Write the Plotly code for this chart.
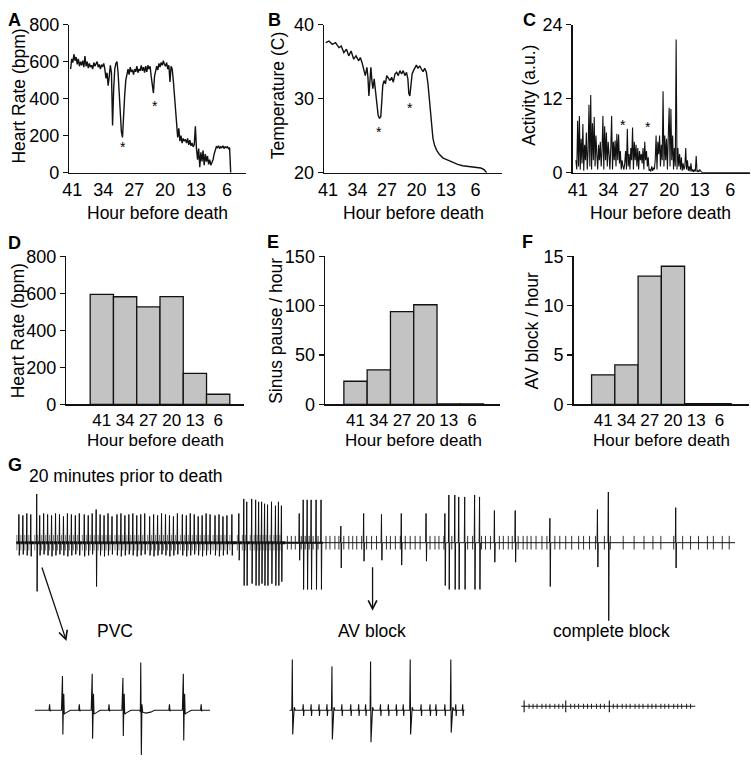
import numpy as np
import plotly.graph_objects as go

W, H = 751, 765
FONT = "Liberation Sans, Arial, Helvetica, sans-serif"


def fx(px):
    return px / W


def fy(py):
    return 1 - py / H


# ---------------- data: panels A-C (hour before death) ----------------
HOUR_TICKS = [41, 34, 27, 20, 13, 6]

HR_START, HR_STEP = 41.4, 0.25
HR = [560, 615, 595, 640, 605, 625, 585, 615, 575, 600,
      580, 605, 570, 630, 575, 600, 565, 590, 570, 580,
      560, 595, 575, 590, 600, 570, 585, 560, 580, 575,
      590, 560, 510, 540, 470, 520, 580, 540, 255, 450,
      560, 590, 600, 540, 430, 300, 220, 190, 330, 420,
      500, 545, 560, 530, 570, 545, 555, 530, 560, 545,
      575, 540, 560, 550, 580, 550, 570, 540, 575, 545,
      580, 560, 575, 520, 480, 430, 520, 560, 575, 555,
      590, 570, 595, 580, 605, 585, 575, 595, 560, 580,
      490, 575, 560, 500, 420, 300, 270, 190, 240, 170,
      200, 160, 185, 170, 180, 160, 185, 150, 175, 145,
      160, 140, 150, 250, 130, 70, 130, 30, 110, 60,
      120, 40, 100, 60, 90, 45, 70, 40, 55, 70,
      100, 125, 140, 135, 145, 130, 140, 135, 145, 130,
      140, 135, 140, 130, 135, 0]

TEMP_HOURS = [41.55, 40.77, 39.98, 39.2, 38.42, 37.87, 37.24, 36.62, 36.07, 35.52,
              34.9, 34.35, 33.72, 33.33, 32.94, 32.55, 32.16, 31.77, 31.53, 31.3,
              31.06, 30.83, 30.59, 30.36, 30.05, 29.73, 29.42, 29.11, 28.79, 28.48,
              28.25, 28.01, 27.7, 27.38, 27.07, 26.68, 26.29, 25.9, 25.51, 25.12,
              24.72, 24.33, 23.94, 23.55, 23.16, 22.77, 22.38, 22.06, 21.83, 21.59,
              21.36, 21.05, 20.73, 20.42, 20.03, 19.64, 19.25, 18.86, 18.46, 18.07,
              17.68, 17.29, 16.9, 16.51, 16.12, 15.73, 15.18, 14.55, 13.77, 12.99,
              12.2, 11.42, 10.25, 9.08, 7.51, 5.95, 4.77, 3.99, 3.37]
TEMP = [37.56, 37.78, 37.33, 37.56, 36.89, 37.1, 36.22, 36.67, 35.78, 36.44,
        35.33, 35.78, 35.11, 35.56, 34.89, 34.0, 33.11, 34.22, 32.89, 30.36,
        33.11, 34.22, 32.44, 31.33, 32.67, 30.89, 29.56, 27.78, 27.33, 27.56,
        29.56, 31.78, 32.44, 32.0, 33.11, 32.76, 32.44, 32.89, 32.22, 33.33,
        33.56, 33.11, 33.78, 33.33, 33.78, 33.11, 33.56, 32.67, 30.67, 30.36,
        32.22, 33.33, 33.78, 34.22, 34.53, 34.09, 34.44, 34.0, 33.64, 34.09,
        33.56, 32.0, 29.56, 26.89, 24.67, 23.69, 22.98, 22.44, 22.0, 21.78,
        21.56, 21.38, 21.11, 20.93, 20.8, 20.71, 20.62, 20.4, 20.0]

ACT_START, ACT_STEP = 41.4, 0.2
ACT = [2, 0.5, 8.4, 1, 9.2,
       0.5, 5.5, 1.5, 7.9, 0.3,
       4.5, 2, 6.5, 0.5, 3.5,
       11, 1, 12.6, 0.5, 8,
       2, 9, 1, 6, 3,
       0.5, 4.5, 2, 5, 1,
       3.5, 9.2, 0.5, 7.5, 2,
       6.5, 1, 5, 3, 0.5,
       4, 9.2, 0.5, 5, 2,
       5.2, 1, 6.3, 2, 6.2,
       1.5, 3.5, 0.5, 2, 1,
       0.5, 1.5, 3.5, 0.5, 7.1,
       1, 3, 0.5, 4, 2,
       7.3, 0.5, 5, 2, 4.5,
       1, 4, 0.5, 3.5, 2,
       3, 1.5, 4, 0.5, 5,
       2, 3.5, 1, 2.5, 0.3,
       0.5, 0.2, 1, 0.3, 0.8,
       0.5, 2, 6, 0.5, 5,
       3, 6, 1, 4.5, 2,
       13.2, 1, 6, 2, 5.5,
       0.5, 6, 10.5, 1, 10.3,
       2, 6, 0.5, 4, 1,
       21.6, 0.5, 4, 1, 3,
       0.5, 2.5, 0.3, 1.5, 0.5,
       1, 4, 0.5, 2, 0.3,
       1, 0.2, 1.5, 0.2, 0.5,
       0.1, 0.5, 0.2, 2.7, 0.1,
       0.3, 0.1, 0.5, 0.2, 0.1]
ACT_TAIL_HOURS = [12.4, 1.5]
ACT_TAIL = [0, 0]

STAR_A = ([29.6, 22.4], [154, 379])
STAR_B = ([29.0, 21.6], [25.9, 29.1])
STAR_C = ([30.6, 24.8], [8.2, 7.9])

# ---------------- data: panels D-F (binned) ----------------
BIN_LABELS = ["41", "34", "27", "20", "13", "6"]
BIN_HR = [595, 582, 527, 583, 168, 55]
BIN_SINUS = [23.5, 35, 94, 101, 0.6, 0.6]
BIN_AV = [3, 4, 13, 14, 0.08, 0.08]

# ---------------- data: panel G (ECG, seconds / mV) ----------------
TOP_LEN = 72.6
TOP_QRS_T = [0.3, 0.7, 1.1, 1.5, 2.1, 2.4, 2.8, 3.2, 3.6, 4.0, 4.4, 4.8, 5.2, 5.6, 6.0,
             6.4, 6.9, 7.3, 7.7, 8.1, 8.5, 8.9, 9.3, 9.7, 10.2, 10.6, 11.0, 11.4, 11.8,
             12.2, 12.6, 13.0, 13.5, 13.9, 14.3, 14.7, 15.1, 15.5, 15.9, 16.3, 16.8,
             17.2, 17.6, 18.0, 18.4, 18.8, 19.2, 19.6, 20.1, 20.5, 20.9, 21.3, 21.8,
             22.5, 23.0, 23.3, 23.8, 24.2, 24.5, 24.8, 25.1, 25.4, 25.8, 26.2, 26.5, 26.8,
             28.6, 29.0, 29.4, 29.8, 30.3, 30.8,
             32.8, 35.1, 36.9, 38.9, 41.4, 43.3, 43.7, 44.3, 44.7, 45.3, 46.3, 46.8,
             48.3, 50.4, 53.9, 58.7, 59.8, 66.6]
TOP_QRS_UP = [1.45, 1.4, 1.5, 1.45, 2.5, 1.4, 1.5, 1.45, 1.4, 1.5, 1.45, 1.35, 1.5, 1.45, 1.4,
              1.5, 1.45, 1.4, 1.5, 1.7, 1.45, 1.4, 1.5, 1.35, 1.45, 1.5, 1.4, 1.45, 1.5,
              1.4, 1.45, 1.5, 1.35, 1.45, 1.4, 1.5, 1.45, 1.4, 1.35, 1.5, 1.45,
              1.4, 1.5, 1.45, 1.35, 1.4, 1.5, 1.45, 1.4, 1.45, 1.35, 1.4, 1.45,
              1.5, 2.25, 2.1, 2.25, 2.2, 2.1, 2.1, 2.0, 1.95, 2.1, 1.9, 2.1, 1.9,
              1.5, 2.2, 2.2, 2.2, 2.2, 2.2,
              0.85, 1.5, 1.45, 1.5, 1.5, 1.5, 2.45, 2.45, 2.35, 2.35, 2.45, 2.35,
              1.65, 1.65, 1.25, 1.7, 2.6, 1.8]
TOP_QRS_DOWN = [0.65, 0.6, 0.65, 0.7, 2.5, 0.65, 0.6, 0.65, 0.7, 0.65, 0.6, 0.65, 0.7, 0.65, 0.6,
                0.65, 0.7, 0.65, 0.6, 2.25, 0.65, 0.7, 0.65, 0.6, 0.65, 0.7, 0.65, 0.6, 0.65,
                0.7, 0.65, 0.6, 0.65, 0.7, 0.65, 0.6, 0.65, 0.7, 0.65, 0.6, 0.65,
                0.7, 0.65, 0.6, 0.65, 0.7, 0.65, 0.6, 0.65, 0.7, 0.65, 0.6, 0.65,
                0.9, 2.2, 2.2, 2.1, 2.2, 2.2, 2.1, 2.2, 2.2, 2.1, 2.2, 2.2, 2.0,
                0.9, 2.4, 2.4, 2.4, 2.4, 2.4,
                1.3, 0.95, 0.9, 1.15, 0.95, 2.2, 2.4, 2.4, 2.4, 2.4, 2.4, 2.4,
                1.0, 1.0, 2.25, 1.25, 4.0, 1.3]
TOP_P_T = [27.4, 27.8, 28.2, 28.8, 29.2, 29.6, 30.0, 30.5, 31.3, 31.7, 32.2, 32.6, 33.1,
           33.6, 34.0, 34.4, 34.9, 35.4, 35.9, 36.4, 37.4, 37.8, 38.3, 38.8, 39.3, 39.8,
           40.3, 40.8, 41.8, 42.3, 42.7, 43.2, 44.0, 45.6, 46.1, 47.0, 47.4, 47.9, 48.8,
           49.2, 49.7, 50.1, 50.7, 51.2, 51.6, 52.0, 52.5, 53.1, 53.6, 54.4, 54.9, 55.5,
           56.1, 56.8, 57.3, 57.9, 58.5, 59.4, 60.0, 61.3, 62.4, 63.4, 64.3, 65.1, 66.4,
           67.3, 68.1, 68.9, 69.8, 70.4, 71.3, 72.0]

PVC_LEN = 1.77
PVC_QRS_T = [0.28, 0.58, 0.89, 1.50]
PVC_QRS_UP = [1.75, 1.87, 1.65, 1.87]
PVC_QRS_DOWN = [1.25, 1.47, 1.32, 1.55]
PVC_ECTOPIC_T = [1.07]
PVC_ECTOPIC_UP = [2.45]
PVC_ECTOPIC_DOWN = [2.3]
PVC_P_T = [0.15, 0.45, 0.75, 1.36, 1.68]

AV_LEN = 1.77
AV_QRS_T = [0.03, 0.43, 0.82, 1.22, 1.63]
AV_QRS_UP = [2.6, 2.25, 2.5, 2.6, 2.6]
AV_QRS_DOWN = [1.25, 1.5, 1.65, 1.25, 1.15]
AV_P_T = [0.14, 0.22, 0.30, 0.38, 0.53, 0.62, 0.70, 0.77, 0.92, 1.00, 1.08, 1.15,
          1.33, 1.42, 1.48, 1.57, 1.68, 1.75]

CB_LEN = 1.76
CB_BIG_T = [0.03, 0.45, 0.89]
CB_SMALL_T = [0.08, 0.12, 0.16, 0.21, 0.25, 0.29, 0.34, 0.38, 0.42, 0.50, 0.54, 0.58,
              0.63, 0.67, 0.71, 0.76, 0.80, 0.84, 0.93, 0.97, 1.02, 1.06, 1.10, 1.15,
              1.19, 1.23, 1.28, 1.32, 1.36, 1.41, 1.45, 1.49, 1.54, 1.58, 1.62, 1.67, 1.71]


# ---------------- helpers ----------------
def polyline(length, events):
    events = sorted(events, key=lambda e: e[0])
    xs, ys = [0.0], [0.0]
    for t, tpl in events:
        for dt, v in tpl:
            xs.append(t + dt)
            ys.append(v)
    xs.append(length)
    ys.append(0.0)
    return xs, ys


def ticks(times, up, down):
    xs, ys = [], []
    for t in times:
        xs += [t, t, None]
        ys += [up, -down, None]
    return xs, ys


fig = go.Figure()
BLACK = "#111111"

# Panel A
hr_hours = HR_START - HR_STEP * np.arange(len(HR))
fig.add_trace(go.Scatter(x=hr_hours, y=HR, mode="lines", line=dict(color=BLACK, width=1.4),
                         xaxis="x", yaxis="y", showlegend=False))
# Panel B
fig.add_trace(go.Scatter(x=TEMP_HOURS, y=TEMP, mode="lines", line=dict(color=BLACK, width=1.4),
                         xaxis="x2", yaxis="y2", showlegend=False))
# Panel C
act_hours = list(ACT_START - ACT_STEP * np.arange(len(ACT))) + ACT_TAIL_HOURS
fig.add_trace(go.Scatter(x=act_hours, y=ACT + ACT_TAIL, mode="lines",
                         line=dict(color=BLACK, width=1.1),
                         xaxis="x3", yaxis="y3", showlegend=False))

# Panels D-F
for vals, n in [(BIN_HR, 4), (BIN_SINUS, 5), (BIN_AV, 6)]:
    fig.add_trace(go.Bar(x=BIN_LABELS, y=vals, width=1,
                         marker=dict(color="#c3c3c3", line=dict(color=BLACK, width=1.3)),
                         xaxis=f"x{n}", yaxis=f"y{n}", showlegend=False))

# Panel G top strip
top_events = [(t, [(-0.04, 0.0), (0.0, u), (0.04, -d), (0.08, 0.0)])
              for t, u, d in zip(TOP_QRS_T, TOP_QRS_UP, TOP_QRS_DOWN)]
gx, gy = polyline(TOP_LEN, top_events)
fig.add_trace(go.Scatter(x=[0, 27.2], y=[0, 0], mode="lines", line=dict(color=BLACK, width=3),
                         xaxis="x7", yaxis="y7", showlegend=False))
fig.add_trace(go.Scatter(x=[27.2, 31.0], y=[0, 0], mode="lines", line=dict(color=BLACK, width=2),
                         xaxis="x7", yaxis="y7", showlegend=False))
conducted_p = [t - 0.2 for t in TOP_QRS_T if t < 22.2] + [t - 0.15 for t in TOP_QRS_T if 22.2 < t < 27]
px_, py_ = ticks(conducted_p, 0.4, 0.4)
fig.add_trace(go.Scatter(x=px_, y=py_, mode="lines", line=dict(color="#777777", width=1),
                         xaxis="x7", yaxis="y7", showlegend=False))
px_, py_ = ticks(TOP_P_T, 0.35, 0.35)
fig.add_trace(go.Scatter(x=px_, y=py_, mode="lines", line=dict(color="#333333", width=1),
                         xaxis="x7", yaxis="y7", showlegend=False))
fig.add_trace(go.Scatter(x=gx, y=gy, mode="lines", line=dict(color=BLACK, width=1),
                         xaxis="x7", yaxis="y7", showlegend=False))

# PVC strip
ev = [(t, [(-0.01, 0.0), (0.0, u), (0.004, -d), (0.009, 0.2), (0.013, 0.85), (0.018, -0.2),
           (0.03, -0.15), (0.05, -0.1), (0.08, 0.0)])
      for t, u, d in zip(PVC_QRS_T, PVC_QRS_UP, PVC_QRS_DOWN)]
ev += [(t, [(-0.01, 0.0), (-0.004, -0.1), (0.0, u), (0.006, -d), (0.012, 0.3), (0.02, -0.1),
            (0.05, -0.15), (0.1, -0.1), (0.14, 0.0)])
       for t, u, d in zip(PVC_ECTOPIC_T, PVC_ECTOPIC_UP, PVC_ECTOPIC_DOWN)]
ev += [(t, [(-0.006, 0.0), (0.0, 0.3), (0.005, -0.05), (0.012, 0.0)]) for t in PVC_P_T]
vx, vy = polyline(PVC_LEN, ev)
fig.add_trace(go.Scatter(x=vx, y=vy, mode="lines", line=dict(color=BLACK, width=1.1),
                         xaxis="x8", yaxis="y8", showlegend=False))

# AV block strip
ev = [(t, [(-0.005, 0.0), (0.0, u), (0.004, -d), (0.012, -0.45), (0.02, 0.15), (0.03, 0.0)])
      for t, u, d in zip(AV_QRS_T, AV_QRS_UP, AV_QRS_DOWN)]
ev += [(t, [(-0.005, 0.0), (0.0, 0.3), (0.004, -0.3), (0.008, 0.0)]) for t in AV_P_T]
ax_, ay_ = polyline(AV_LEN, ev)
fig.add_trace(go.Scatter(x=ax_, y=ay_, mode="lines", line=dict(color=BLACK, width=1.1),
                         xaxis="x9", yaxis="y9", showlegend=False))

# complete block strip
fig.add_trace(go.Scatter(x=[0, CB_LEN], y=[0, 0], mode="lines", line=dict(color=BLACK, width=1.1),
                         xaxis="x10", yaxis="y10", showlegend=False))
cx, cy = ticks(CB_SMALL_T, 0.13, 0.13)
fig.add_trace(go.Scatter(x=cx, y=cy, mode="lines", line=dict(color="#222222", width=1),
                         xaxis="x10", yaxis="y10", showlegend=False))
cx, cy = ticks(CB_BIG_T, 0.3, 0.3)
fig.add_trace(go.Scatter(x=cx, y=cy, mode="lines", line=dict(color=BLACK, width=1.1),
                         xaxis="x10", yaxis="y10", showlegend=False))

# ---------------- axes ----------------
def tfont(size):
    return dict(family=FONT, size=size, color="#000")


def xax(x0, x1, rng, anchor, vals=None, cat=False, size=18):
    d = dict(domain=[fx(x0), fx(x1)], range=rng, anchor=anchor, showline=True,
             linecolor=BLACK, linewidth=1.5, ticks="", showgrid=False, zeroline=False,
             tickfont=tfont(size), fixedrange=True)
    if cat:
        d["type"] = "category"
    else:
        d["tickvals"] = vals
    return d


def yax(y0, y1, rng, vals, anchor):
    return dict(domain=[fy(y0), fy(y1)], range=rng, anchor=anchor, showline=True,
                linecolor=BLACK, linewidth=1.5, ticks="outside", ticklen=5, tickwidth=1.3,
                tickcolor=BLACK, tickvals=vals, showgrid=False, zeroline=False,
                tickfont=tfont(18), fixedrange=True)


R1 = (167, 15)
R2 = (405, 253)
layout_axes = dict(
    xaxis=xax(63, 241, [41.67, 1.74], "y", HOUR_TICKS),
    yaxis=yax(*R1, [0, 800], [0, 200, 400, 600, 800], "x"),
    xaxis2=xax(320, 500, [41.94, -0.34], "y2", HOUR_TICKS),
    yaxis2=yax(*R1, [20, 40], [20, 30, 40], "x2"),
    xaxis3=xax(571, 750, [42.14, 1.45], "y3", HOUR_TICKS),
    yaxis3=yax(*R1, [0, 24], [0, 12, 24], "x3"),
    xaxis4=xax(60, 239, [-1.52, 6.1], "y4", cat=True, size=17),
    yaxis4=yax(*R2, [0, 800], [0, 200, 400, 600, 800], "x4"),
    xaxis5=xax(321, 498, [-1.31, 6.22], "y5", cat=True, size=17),
    yaxis5=yax(*R2, [0, 150], [0, 50, 100, 150], "x5"),
    xaxis6=xax(572, 749, [-1.27, 6.27], "y6", cat=True, size=17),
    yaxis6=yax(*R2, [0, 15], [0, 5, 10, 15], "x6"),
)
hidden = dict(visible=False, showgrid=False, zeroline=False, fixedrange=True)
layout_axes.update(
    xaxis7=dict(hidden, domain=[fx(9), fx(735)], range=[0, TOP_LEN], anchor="y7"),
    yaxis7=dict(hidden, domain=[fy(637), fy(477)], range=[-4.5, 3.5], anchor="x7"),
    xaxis8=dict(hidden, domain=[fx(28), fx(205)], range=[0, PVC_LEN], anchor="y8"),
    yaxis8=dict(hidden, domain=[0, fy(659)], range=[-2.3, 3.0], anchor="x8"),
    xaxis9=dict(hidden, domain=[fx(285), fx(462)], range=[0, AV_LEN], anchor="y9"),
    yaxis9=dict(hidden, domain=[0, fy(659)], range=[-2.3, 3.0], anchor="x9"),
    xaxis10=dict(hidden, domain=[fx(519), fx(695)], range=[0, CB_LEN], anchor="y10"),
    yaxis10=dict(hidden, domain=[0, fy(655)], range=[-2.5, 3.0], anchor="x10"),
)

# ---------------- annotations ----------------
ann = []


def text(px, py, s, size=17.5, bold=False, angle=0, xanchor="center"):
    ann.append(dict(x=fx(px), y=fy(py), xref="paper", yref="paper", text=f"<b>{s}</b>" if bold else s,
                    showarrow=False, textangle=angle, xanchor=xanchor, yanchor="middle",
                    font=dict(family=FONT, size=size, color="#000")))


# panel letters
for lbl, px, py in [("A", 8, 10), ("B", 270, 10), ("C", 527, 10),
                    ("D", 8, 239), ("E", 269, 238), ("F", 525, 238), ("G", 8, 467)]:
    text(px, py, lbl, size=18, bold=True)

# x titles
for cx_ in [152, 410, 660]:
    text(cx_, 208, "Hour before death")
for cx_ in [150, 410, 661]:
    text(cx_, 442, "Hour before death", size=17)

# y titles
text(12, 88, "Heart Rate (bpm)", angle=-90)
text(273, 88, "Temperature (C)", angle=-90)
text(527, 88, "Activity (a.u.)", angle=-90)
text(12, 329, "Heart Rate (bpm)", angle=-90)
text(272, 329, "Sinus pause / hour", angle=-90)
text(530, 329, "AV block / hour", angle=-90)

# asterisks
for (xs, ys), n in [(STAR_A, ""), (STAR_B, "2"), (STAR_C, "3")]:
    for x, y in zip(xs, ys):
        ann.append(dict(x=x, y=y, xref=f"x{n}", yref=f"y{n}", text="*", showarrow=False,
                        yshift=-3, font=dict(family=FONT, size=14, color="#000")))

# panel G texts
text(20, 479, "20 minutes prior to death", size=17.5, xanchor="left")
text(109, 638, "PVC")
text(368, 638, "AV block")
text(610, 638, "complete block")

# arrows
for (x0, y0, x1, y1) in [(35, 573, 60, 648), (369, 572, 369, 617)]:
    ann.append(dict(x=fx(x1), y=fy(y1), xref="paper", yref="paper", ax=x0 - x1, ay=y0 - y1,
                    axref="pixel", ayref="pixel", showarrow=True, arrowhead=5, arrowsize=1.3,
                    arrowwidth=1.3, arrowcolor=BLACK, text=""))

fig.update_layout(
    width=W, height=H, autosize=False,
    margin=dict(l=0, r=0, t=0, b=0, pad=0),
    paper_bgcolor="white", plot_bgcolor="rgba(0,0,0,0)",
    font=dict(family=FONT, color="#000"),
    bargap=0, showlegend=False,
    annotations=ann,
    **layout_axes,
)

fig.write_html("out.html",
               config={"displayModeBar": False, "staticPlot": True},
               post_script="document.body.style.margin='0px';document.body.style.overflow='hidden';")
